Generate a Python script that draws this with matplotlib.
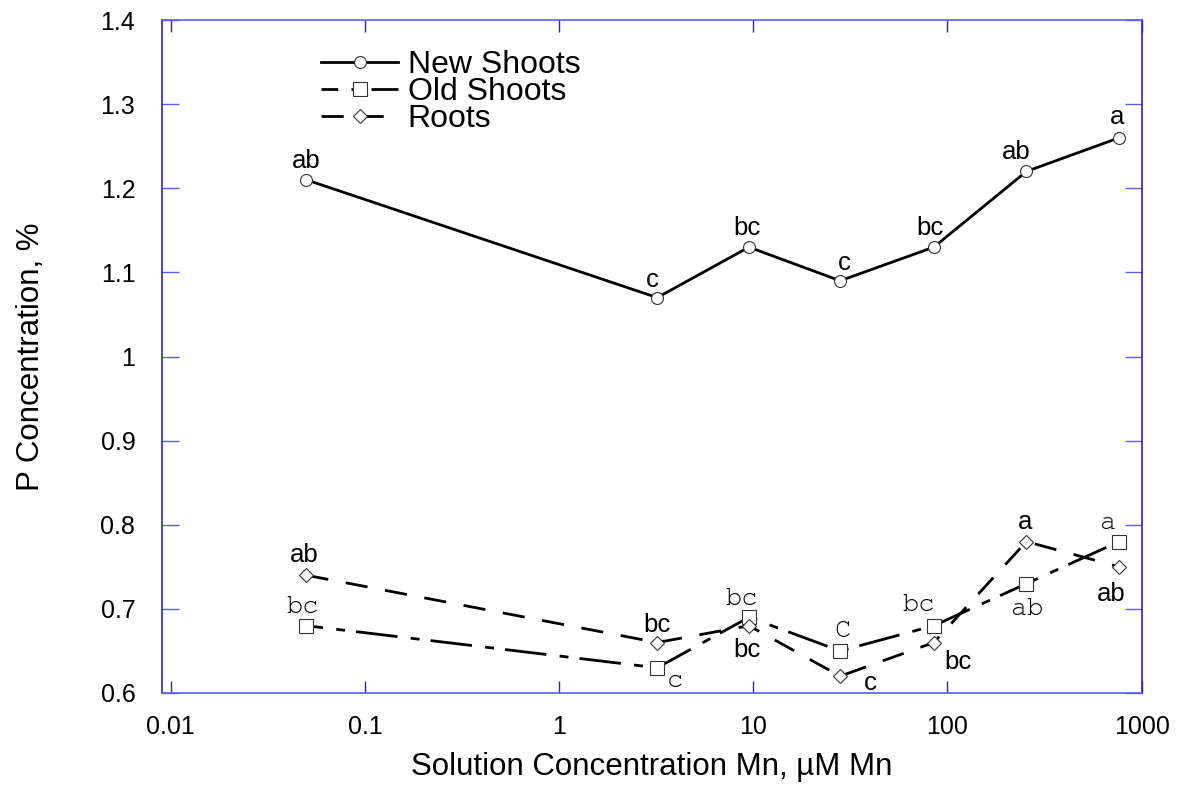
import matplotlib
matplotlib.use("Agg")
import matplotlib.pyplot as plt
from matplotlib.ticker import FixedLocator, FixedFormatter, NullLocator
from matplotlib import font_manager

# Mn solution concentrations (µM) and P concentration (%) per tissue
mn_conc = [0.05, 3.2, 9.5, 28, 85, 255, 765]
new_shoots = [1.21, 1.07, 1.13, 1.09, 1.13, 1.22, 1.26]
old_shoots = [0.68, 0.63, 0.69, 0.65, 0.68, 0.73, 0.78]
roots = [0.74, 0.66, 0.68, 0.62, 0.66, 0.78, 0.75]

# mean-separation letters
new_letters = ["ab", "c", "bc", "c", "bc", "ab", "a"]
old_letters = ["bc", "c", "bc", "C", "bc", "ab", "a"]
root_letters = ["ab", "bc", "bc", "c", "bc", "a", "ab"]

x_ticks = [0.01, 0.1, 1, 10, 100, 1000]
x_tick_labels = ["0.01", "0.1", "1", "10", "100", "1000"]
y_ticks = [0.6, 0.7, 0.8, 0.9, 1.0, 1.1, 1.2, 1.3, 1.4]
y_tick_labels = ["0.6", "0.7", "0.8", "0.9", "1", "1.1", "1.2", "1.3", "1.4"]

SANS = "Liberation Sans"
installed = {f.name for f in font_manager.fontManager.ttflist}
# slab-serif face for the old-shoot letters
SLAB = next((n for n in ["Courier New", "Nimbus Mono PS", "FreeMono", "DejaVu Serif"]
             if n in installed), "serif")
plt.rcParams["font.family"] = SANS

W, H, DPI = 1184, 786, 100
fig = plt.figure(figsize=(W / DPI, H / DPI), dpi=DPI)
ax = fig.add_axes([161.7 / W, 1 - 693 / H, 980 / W, 673 / H])

lw = 2.0
marker_kw = dict(markerfacecolor="white", markeredgecolor="#333333", markeredgewidth=0.8)

ax.plot(mn_conc, new_shoots, color="black", lw=lw, linestyle="-",
        marker="o", markersize=8.6, label="New Shoots", **marker_kw)
ax.plot(mn_conc, old_shoots, color="black", lw=lw, linestyle=(9, (15, 4.8, 3.2, 4.0)),
        marker="s", markersize=10.5, label="Old Shoots", **marker_kw)
ax.plot(mn_conc, roots, color="black", lw=lw, linestyle=(0, (8, 6.4)),
        marker="D", markersize=7, label="Roots", **marker_kw)

# letter placement: (dx, dy) in pixels from the point to the text baseline centre
new_off = [(0, 12), (-5, 11), (-2, 12), (4, 11), (-4, 12), (-10, 12), (-2, 14)]
old_off = [(-4, 13), (18, -19), (-7, 12), (2, 14), (-15, 15), (1, -31), (-11, 13)]
root_off = [(-2, 13), (0, 11), (-2, -31), (30, -14), (24, -26), (-1, 13), (-8, -34)]

ann_size = 18.5
for xs, ys, labs, offs, fam, size in [
    (mn_conc, new_shoots, new_letters, new_off, SANS, ann_size),
    (mn_conc, old_shoots, old_letters, old_off, SLAB, 19.5),
    (mn_conc, roots, root_letters, root_off, SANS, ann_size),
]:
    for xv, yv, lab, (dx, dy) in zip(xs, ys, labs, offs):
        ax.annotate(lab, (xv, yv), xytext=(dx, dy), textcoords="offset pixels",
                    ha="center", va="baseline", fontsize=size, fontfamily=fam)

ax.set_xscale("log")
ax.set_xlim(0.00899, 1000)
ax.set_ylim(0.6, 1.4)
ax.xaxis.set_major_locator(FixedLocator(x_ticks))
ax.xaxis.set_major_formatter(FixedFormatter(x_tick_labels))
ax.xaxis.set_minor_locator(NullLocator())
ax.yaxis.set_major_locator(FixedLocator(y_ticks))
ax.yaxis.set_major_formatter(FixedFormatter(y_tick_labels))

blue_dark = "#2424dc"
blue_light = "#5c5cf0"
ax.spines["left"].set_color(blue_dark)
ax.spines["right"].set_color(blue_dark)
ax.spines["top"].set_color(blue_light)
ax.spines["bottom"].set_color(blue_light)
for s in ax.spines.values():
    s.set_linewidth(1.2)

ax.tick_params(axis="x", which="major", direction="in", length=8.6, width=1.0,
               color=blue_dark, top=True, bottom=True, labelsize=18, pad=16,
               labelcolor="black")
ax.tick_params(axis="y", which="major", direction="in", length=12, width=1.0,
               color=blue_light, left=True, right=True, labelsize=18, pad=19,
               labelcolor="black")

ax.set_xlabel("Solution Concentration Mn, µM Mn", fontsize=22.5)
ax.xaxis.set_label_coords(0.5, -0.087)
ax.set_ylabel("P Concentration, %", fontsize=22.5)
ax.yaxis.set_label_coords(-0.118, 0.5)

ax.legend(loc="upper left", bbox_to_anchor=(0.163, 0.955), frameon=False,
          fontsize=23, labelspacing=-0.1, handlelength=2.4, handletextpad=0.3,
          borderpad=0, borderaxespad=0)

fig.savefig("out.png", dpi=DPI)
